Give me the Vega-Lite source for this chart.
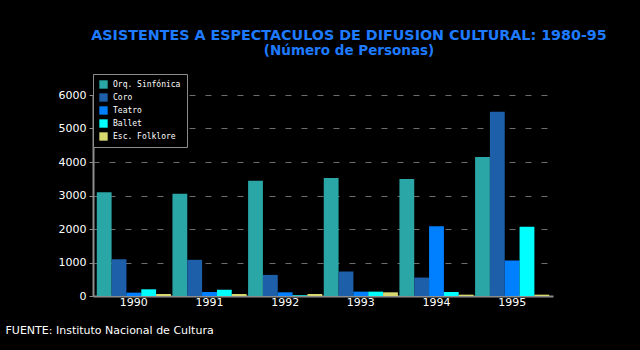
{
  "$schema": "https://vega.github.io/schema/vega-lite/v6.json",
  "autosize": {"type": "none"},
  "width": 460,
  "height": 201,
  "padding": {"left": 93, "top": 95, "right": 87, "bottom": 54},
  "background": "#000000",
  "config": {
    "view": {"stroke": null},
    "font": "DejaVu Sans"
  },
  "title": {
    "text": "ASISTENTES A ESPECTACULOS DE DIFUSION CULTURAL: 1980-95",
    "subtitle": "(Número de Personas)",
    "anchor": "middle",
    "dx": 26,
    "offset": 16,
    "color": "#1e7bff",
    "subtitleColor": "#1e7bff",
    "font": "DejaVu Sans",
    "subtitleFont": "DejaVu Sans",
    "fontSize": 14.3,
    "subtitleFontSize": 13.5,
    "fontWeight": "bold",
    "subtitleFontWeight": "bold",
    "subtitlePadding": 1
  },
  "data": {
    "values": [
      {"anio": "1990", "serie": "Orq. Sinfónica", "valor": 3100},
      {"anio": "1990", "serie": "Coro", "valor": 1100},
      {"anio": "1990", "serie": "Teatro", "valor": 100},
      {"anio": "1990", "serie": "Ballet", "valor": 200},
      {"anio": "1990", "serie": "Esc. Folklore", "valor": 60},
      {"anio": "1991", "serie": "Orq. Sinfónica", "valor": 3050},
      {"anio": "1991", "serie": "Coro", "valor": 1080},
      {"anio": "1991", "serie": "Teatro", "valor": 120},
      {"anio": "1991", "serie": "Ballet", "valor": 190},
      {"anio": "1991", "serie": "Esc. Folklore", "valor": 60},
      {"anio": "1992", "serie": "Orq. Sinfónica", "valor": 3440},
      {"anio": "1992", "serie": "Coro", "valor": 630},
      {"anio": "1992", "serie": "Teatro", "valor": 110},
      {"anio": "1992", "serie": "Ballet", "valor": 20},
      {"anio": "1992", "serie": "Esc. Folklore", "valor": 60},
      {"anio": "1993", "serie": "Orq. Sinfónica", "valor": 3520},
      {"anio": "1993", "serie": "Coro", "valor": 730},
      {"anio": "1993", "serie": "Teatro", "valor": 130},
      {"anio": "1993", "serie": "Ballet", "valor": 130},
      {"anio": "1993", "serie": "Esc. Folklore", "valor": 110},
      {"anio": "1994", "serie": "Orq. Sinfónica", "valor": 3490},
      {"anio": "1994", "serie": "Coro", "valor": 550},
      {"anio": "1994", "serie": "Teatro", "valor": 2080},
      {"anio": "1994", "serie": "Ballet", "valor": 120},
      {"anio": "1994", "serie": "Esc. Folklore", "valor": 40},
      {"anio": "1995", "serie": "Orq. Sinfónica", "valor": 4150},
      {"anio": "1995", "serie": "Coro", "valor": 5500},
      {"anio": "1995", "serie": "Teatro", "valor": 1060},
      {"anio": "1995", "serie": "Ballet", "valor": 2070},
      {"anio": "1995", "serie": "Esc. Folklore", "valor": 40}
    ]
  },
  "mark": {"type": "bar", "stroke": null},
  "encoding": {
    "x": {
      "field": "anio",
      "type": "nominal",
      "scale": {"paddingInner": 0.02, "paddingOuter": 0.05},
      "axis": {
        "title": "FUENTE: Instituto Nacional de Cultura",
        "titleAnchor": "start",
        "titleX": -88,
        "titleY": 28,
        "titleColor": "#ffffff",
        "titleFont": "DejaVu Sans",
        "titleFontSize": 11,
        "titleFontWeight": "normal",
        "labelAngle": 0,
        "labelColor": "#ffffff",
        "labelFontSize": 11,
        "labelPadding": 0,
        "ticks": false,
        "domainColor": "#8c8c8c",
        "domainWidth": 2
      }
    },
    "xOffset": {
      "field": "serie",
      "type": "nominal",
      "sort": ["Orq. Sinfónica", "Coro", "Teatro", "Ballet", "Esc. Folklore"],
      "scale": {"paddingInner": 0, "paddingOuter": 0}
    },
    "y": {
      "field": "valor",
      "type": "quantitative",
      "scale": {"domain": [0, 6000], "nice": false},
      "axis": {
        "title": null,
        "values": [0, 1000, 2000, 3000, 4000, 5000, 6000],
        "format": "d",
        "labelColor": "#ffffff",
        "labelFontSize": 11,
        "labelPadding": 3,
        "tickColor": "#8c8c8c",
        "tickSize": 4,
        "domainColor": "#8c8c8c",
        "domainWidth": 2,
        "grid": true,
        "gridColor": "#6e6e6e",
        "gridDash": [6, 10],
        "gridWidth": 1
      }
    },
    "color": {
      "field": "serie",
      "type": "nominal",
      "sort": ["Orq. Sinfónica", "Coro", "Teatro", "Ballet", "Esc. Folklore"],
      "scale": {
        "domain": ["Orq. Sinfónica", "Coro", "Teatro", "Ballet", "Esc. Folklore"],
        "range": ["#2aa6a6", "#1d5fa8", "#0080ff", "#00ffff", "#d8d870"]
      },
      "legend": {
        "title": null,
        "orient": "none",
        "legendX": 0,
        "legendY": -21,
        "direction": "vertical",
        "fillColor": "#000000",
        "strokeColor": "#8c8c8c",
        "padding": 6,
        "rowPadding": 4,
        "symbolType": "square",
        "symbolSize": 70,
        "symbolStrokeWidth": 0,
        "labelColor": "#ffffff",
        "labelFont": "DejaVu Sans Mono",
        "labelFontSize": 8,
        "labelOffset": 5
      }
    }
  }
}
